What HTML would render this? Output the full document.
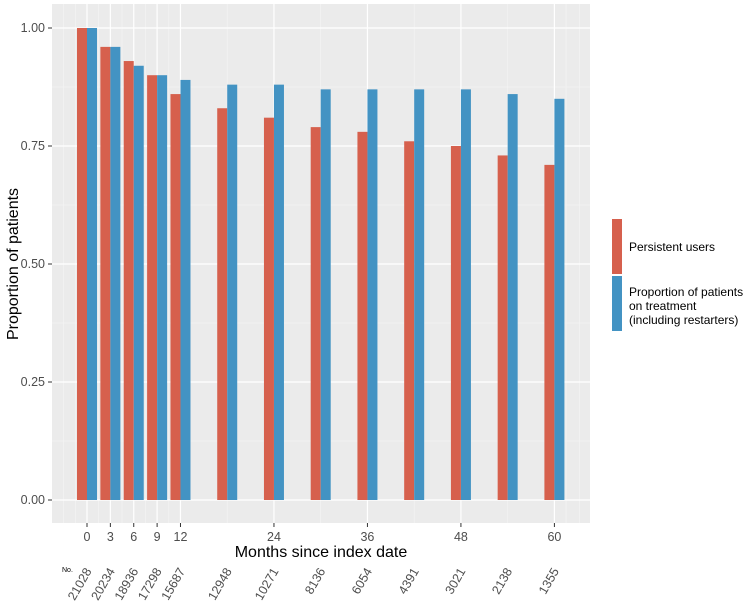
<!DOCTYPE html>
<html><head><meta charset="utf-8"><style>
body{margin:0;background:#fff;font-family:"Liberation Sans",Arial,sans-serif}
</style></head><body>
<svg id="chart" width="744" height="603" xmlns="http://www.w3.org/2000/svg" font-family="Liberation Sans, Arial, sans-serif">
<rect x="52" y="4" width="538" height="519" fill="#ebebeb"/>
<g id="grid"></g><g id="bars"></g><g id="axes"></g>
<text x="321" y="557" font-size="16" text-anchor="middle" fill="#000">Months since index date</text>
<text transform="translate(18,264) rotate(-90)" font-size="16" text-anchor="middle" fill="#000">Proportion of patients</text>
<text x="62" y="572" font-size="7" fill="#000">No.</text>
<g>
<rect x="612" y="219" width="10" height="55" fill="#d6604d"/>
<rect x="612" y="276" width="10" height="55" fill="#4393c3"/>
<text x="629" y="251" font-size="12" fill="#000">Persistent users</text>
<text font-size="12" fill="#000"><tspan x="629" y="296">Proportion of patients</tspan><tspan x="629" y="310">on treatment</tspan><tspan x="629" y="324">(including restarters)</tspan></text>
</g>
</svg>
<script>
const months=[0,3,6,9,12,18,24,30,36,42,48,54,60];
const persistent=[1.00,0.96,0.93,0.90,0.86,0.83,0.81,0.79,0.78,0.76,0.75,0.73,0.71];
const onTreatment=[1.00,0.96,0.92,0.90,0.89,0.88,0.88,0.87,0.87,0.87,0.87,0.86,0.85];
const atRisk=["21028","20234","18936","17298","15687","12948","10271","8136","6054","4391","3021","2138","1355"];
const xTicks=[0,3,6,9,12,24,36,48,60];
const xMinor=[-3,-1.5,1.5,4.5,7.5,10.5,18,30,42,54,61.5,63.2];
const yTicks=[0,0.25,0.5,0.75,1.0];
const yTickLabels=["0.00","0.25","0.50","0.75","1.00"];
const yMinor=[0.125,0.375,0.625,0.875];

const NS="http://www.w3.org/2000/svg";
const X=m=>87+m*7.79;
const Y=v=>500-v*472;
const bw=10;
function mk(tag,attrs,parent){const e=document.createElementNS(NS,tag);for(const k in attrs)e.setAttribute(k,attrs[k]);parent.appendChild(e);return e;}
const grid=document.getElementById('grid'),bars=document.getElementById('bars'),axes=document.getElementById('axes');
yMinor.forEach(v=>{const l=mk('line',{x1:52,x2:590,y1:Y(v),y2:Y(v),stroke:'#f5f5f5','stroke-width':0.6},grid);

});
xMinor.forEach(m=>{const l=mk('line',{x1:X(m),x2:X(m),y1:4,y2:523,stroke:'#f5f5f5','stroke-width':0.6},grid);

});
yTicks.forEach((v,i)=>{const l=mk('line',{x1:52,x2:590,y1:Y(v),y2:Y(v),stroke:'#fff','stroke-width':1.2},grid);


const t=mk('line',{x1:48,x2:52,y1:Y(v),y2:Y(v),stroke:'#333','stroke-width':1},axes);


const tx=mk('text',{x:45,y:Y(v)+4,'font-size':12.5,'text-anchor':'end',fill:'#4d4d4d'},axes);tx.textContent=yTickLabels[i];

});
xTicks.forEach(m=>{const l=mk('line',{x1:X(m),x2:X(m),y1:4,y2:523,stroke:'#fff','stroke-width':1.2},grid);


const t=mk('line',{x1:X(m),x2:X(m),y1:523,y2:527,stroke:'#333','stroke-width':1},axes);


const tx=mk('text',{x:X(m),y:541,'font-size':12.5,'text-anchor':'middle',fill:'#4d4d4d'},axes);tx.textContent=m;

});
months.forEach((m,i)=>{
const r=mk('rect',{x:X(m)-bw,y:Y(persistent[i]),width:bw,height:Y(0)-Y(persistent[i]),fill:'#d6604d'},bars);


const b=mk('rect',{x:X(m),y:Y(onTreatment[i]),width:bw,height:Y(0)-Y(onTreatment[i]),fill:'#4393c3'},bars);


const c=X(m)+5,yy=571;
const t=mk('text',{x:c,y:yy,'font-size':12.5,'text-anchor':'end',fill:'#4d4d4d',transform:`rotate(-60 ${c} ${yy})`},axes);t.textContent=atRisk[i];


});
</script>
</body></html>
